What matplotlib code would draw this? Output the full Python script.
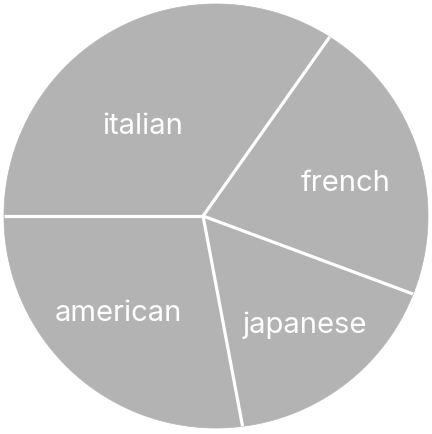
import numpy as np
import matplotlib.pyplot as plt
from matplotlib.patches import Polygon

# data
cuisines = ['italian', 'american', 'japanese', 'french']
shares = [34, 27, 17, 22]

# layout
start_angle = 57.6          # degrees, counter-clockwise
hub = (-0.061, 0.0)         # point where the slices meet (radius units)
label_xy = [(-0.344, 0.429), (-0.458, -0.453), (0.420, -0.509), (0.613, 0.156)]
fill = '#b3b3b3'

plt.rcParams['font.family'] = ['Inter', 'DejaVu Sans']

fig = plt.figure(figsize=(4.32, 4.35), dpi=100)
ax = fig.add_axes([0, 0, 1, 1])
ax.set_xlim(-216 / 212, 216 / 212)
ax.set_ylim(-218 / 212, 217 / 212)
ax.axis('off')

fracs = np.array(shares, dtype=float) / sum(shares)
bounds = start_angle + 360 * np.concatenate([[0], np.cumsum(fracs)])

for i, name in enumerate(cuisines):
    t = np.radians(np.linspace(bounds[i], bounds[i + 1], 200))
    pts = np.column_stack([np.cos(t), np.sin(t)])
    pts = np.vstack([[hub], pts])
    ax.add_patch(Polygon(pts, closed=True, facecolor=fill, edgecolor=fill,
                         linewidth=0.5, zorder=1))
    lx, ly = label_xy[i]
    ax.text(lx, ly, name, color='white', fontsize=21, ha='center',
            va='center', zorder=3)

for b in bounds[:-1]:
    r = np.radians(b)
    ax.plot([hub[0], np.cos(r)], [hub[1], np.sin(r)], color='white',
            linewidth=2.3, solid_capstyle='butt', zorder=2)

fig.savefig('out.png', dpi=100)
